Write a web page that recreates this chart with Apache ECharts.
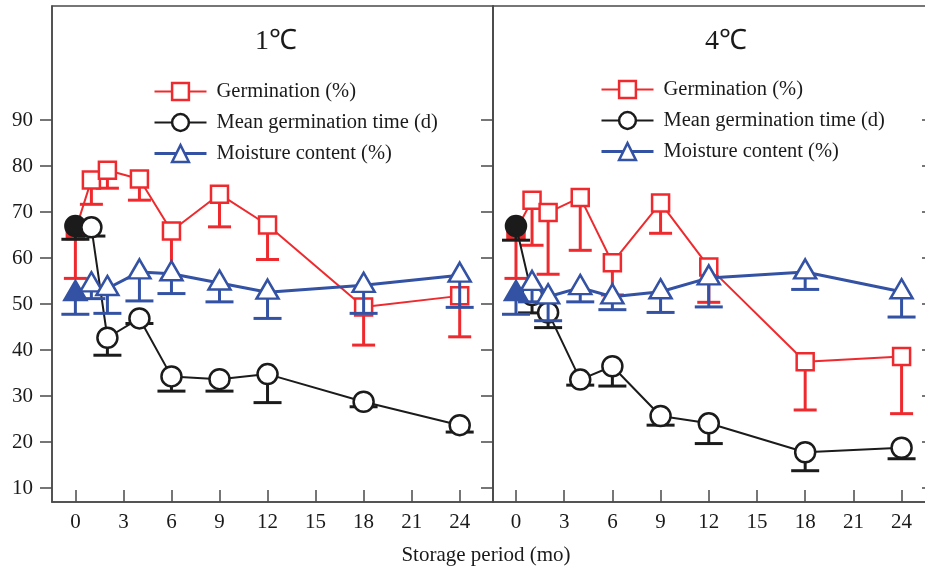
<!DOCTYPE html>
<html>
<head>
<meta charset="utf-8">
<title>Seed storage</title>
<script src="https://cdn.jsdelivr.net/npm/echarts@6/dist/echarts.min.js"></script>
<style>
  html, body { margin: 0; padding: 0; background: #fff; }
  #storageChart { width: 925px; height: 571px; }
</style>
</head>
<body>
<div id="storageChart"></div>
<script>
const months = [0, 1, 2, 4, 6, 9, 12, 18, 24]
const xTicks = [0, 3, 6, 9, 12, 15, 18, 21, 24]
const yTicks = [10, 20, 30, 40, 50, 60, 70, 80, 90]
const names = ['Germination (%)', 'Mean germination time (d)', 'Moisture content (%)']

// 1℃ panel: value and lower end of the error bar
const germ1 = [66, 77, 79.1, 77.2, 65.9, 73.9, 67.2, 49.4, 51.8]
const germ1Low = [55.6, 71.7, 75.2, 72.6, 55.4, 66.8, 59.7, 41.1, 42.9]
const mgt1 = [67, 66.7, 42.7, 46.9, 34.3, 33.7, 34.8, 28.8, 23.7]
const mgt1Low = [64.1, 64.8, 38.9, 45.8, 31.1, 31.1, 28.6, 27.7, 22.2]
const moist1 = [52.3, 54.2, 53.4, 57.0, 56.6, 54.6, 52.6, 54.1, 56.3]
const moist1Low = [47.8, 51.2, 48.0, 50.7, 52.3, 50.5, 46.9, 48.0, 49.3]

// 4℃ panel
const germ4 = [66, 72.6, 69.9, 73.2, 59.0, 72.0, 58.1, 37.5, 38.6]
const germ4Low = [55.6, 62.8, 56.5, 61.7, 52, 65.4, 50.4, 27.0, 26.2]
const mgt4 = [67, 52, 48.2, 33.6, 36.5, 25.7, 24.1, 17.8, 18.8]
const mgt4Low = [63.9, 48.1, 44.9, 32.4, 32.2, 23.7, 19.7, 13.8, 16.4]
const moist4 = [52.3, 54.5, 51.6, 53.6, 51.6, 52.7, 55.7, 57.0, 52.7]
const moist4Low = [47.8, 50.5, 46.4, 50.5, 48.8, 48.2, 49.4, 53.2, 47.2]

const RED = '#ee2a2e'
const BLACK = '#1b1b1b'
const BLUE = '#3352a4'
const AXIS = '#4a4a4a'
const FONT = "'Liberation Serif', 'Times New Roman', serif"

const styles = [
  { color: RED, symbol: 'rect', size: 17, offset: [0, 0], lineW: 2, capW: 23, z: 2 },
  { color: BLACK, symbol: 'circle', size: 20, offset: [0, 0], lineW: 2, capW: 28, z: 4 },
  { color: BLUE, symbol: 'triangle', size: [22, 19], offset: [0, -3], lineW: 3, capW: 28, z: 6 }
]

function errRender (color, capW) {
  return function (params, api) {
    const top = api.coord([api.value(0), api.value(1)])
    const bot = api.coord([api.value(0), api.value(2)])
    const st = { stroke: color, lineWidth: 3 }
    return {
      type: 'group',
      children: [
        { type: 'line', shape: { x1: top[0], y1: top[1], x2: bot[0], y2: bot[1] }, style: st },
        { type: 'line', shape: { x1: bot[0] - capW / 2, y1: bot[1], x2: bot[0] + capW / 2, y2: bot[1] }, style: st }
      ]
    }
  }
}

function panelSeries (g, vals, lows) {
  const out = []
  vals.forEach((v, k) => {
    const s = styles[k]
    out.push({
      type: 'custom',
      name: 'err' + g + k,
      xAxisIndex: g,
      yAxisIndex: g,
      z: s.z,
      silent: true,
      renderItem: errRender(s.color, s.capW),
      data: months.map((m, i) => [m, v[i], lows[k][i]])
    })
    out.push({
      type: 'line',
      name: names[k],
      xAxisIndex: g,
      yAxisIndex: g,
      z: s.z + 1,
      symbol: s.symbol,
      symbolSize: s.size,
      symbolOffset: s.offset,
      showAllSymbol: true,
      itemStyle: { color: '#fff', borderColor: s.color, borderWidth: 2.5 },
      lineStyle: { color: s.color, width: s.lineW },
      // first point (fresh seed) is drawn filled
      data: months.map((m, i) => i === 0 ? { value: [m, v[i]], itemStyle: { color: s.color } } : [m, v[i]])
    })
  })
  return out
}

function legendData () {
  return names.map((n, k) => ({
    name: n,
    itemStyle: { color: '#fff', borderColor: styles[k].color, borderWidth: 2.5 },
    lineStyle: { color: styles[k].color, width: styles[k].lineW }
  }))
}

const legendBase = {
  orient: 'vertical',
  padding: 0,
  itemWidth: 52,
  itemHeight: 21,
  itemGap: 10,
  selectedMode: false,
  textStyle: { fontFamily: FONT, fontSize: 20.5, color: '#1a1a1a', padding: [0, 0, 0, 5] }
}

function xAxisFor (g, min, max) {
  return {
    type: 'value',
    gridIndex: g,
    min: min,
    max: max,
    axisLine: { show: true, onZero: false, lineStyle: { color: AXIS, width: 1.5 } },
    axisTick: { show: true, inside: true, length: 12, customValues: xTicks, lineStyle: { color: AXIS, width: 1.5 } },
    axisLabel: { customValues: xTicks, margin: 10, fontFamily: FONT, fontSize: 21, color: '#1a1a1a' },
    splitLine: { show: false }
  }
}

function yAxisFor (g, pos, showLabel, inside, len) {
  return {
    type: 'value',
    gridIndex: g,
    position: pos,
    min: 7,
    max: 114.8,
    axisLine: { show: pos === 'left', onZero: false, lineStyle: { color: AXIS, width: 1.5 } },
    axisTick: { show: true, inside: inside, length: len, customValues: yTicks, lineStyle: { color: AXIS, width: 1.5 } },
    axisLabel: { show: showLabel, customValues: yTicks, margin: 19, fontFamily: FONT, fontSize: 21, color: '#1a1a1a' },
    splitLine: { show: false }
  }
}

const chartDom = document.getElementById('storageChart')
const myChart = echarts.init(chartDom)

const option = {
  animation: false,
  backgroundColor: '#fff',
  grid: [
    { left: 52, top: 6, width: 441, height: 496, show: true, borderColor: AXIS, borderWidth: 1.5, outerBoundsMode: 'none', containLabel: false },
    { left: 493, top: 6, width: 433, height: 496, show: true, borderColor: AXIS, borderWidth: 1.5, outerBoundsMode: 'none', containLabel: false }
  ],
  xAxis: [xAxisFor(0, -1.46, 26.08), xAxisFor(1, -1.43, 25.52)],
  yAxis: [
    yAxisFor(0, 'left', true, false, 12),
    yAxisFor(1, 'left', false, false, 12),
    yAxisFor(1, 'right', false, true, 4)
  ],
  legend: [
    Object.assign({ left: 153, top: 81, data: legendData() }, legendBase),
    Object.assign({ left: 600, top: 79, data: legendData() }, legendBase)
  ],
  graphic: [
    { type: 'text', x: 276, y: 42, style: { text: '1℃', font: '28px ' + FONT, fill: '#1a1a1a', align: 'center', verticalAlign: 'middle' } },
    { type: 'text', x: 726, y: 42, style: { text: '4℃', font: '28px ' + FONT, fill: '#1a1a1a', align: 'center', verticalAlign: 'middle' } },
    { type: 'text', x: 486, y: 555, style: { text: 'Storage period (mo)', font: '21px ' + FONT, fill: '#1a1a1a', align: 'center', verticalAlign: 'middle' } }
  ],
  series: [].concat(
    panelSeries(0, [germ1, mgt1, moist1], [germ1Low, mgt1Low, moist1Low]),
    panelSeries(1, [germ4, mgt4, moist4], [germ4Low, mgt4Low, moist4Low])
  )
}

option && myChart.setOption(option)
</script>
</body>
</html>
